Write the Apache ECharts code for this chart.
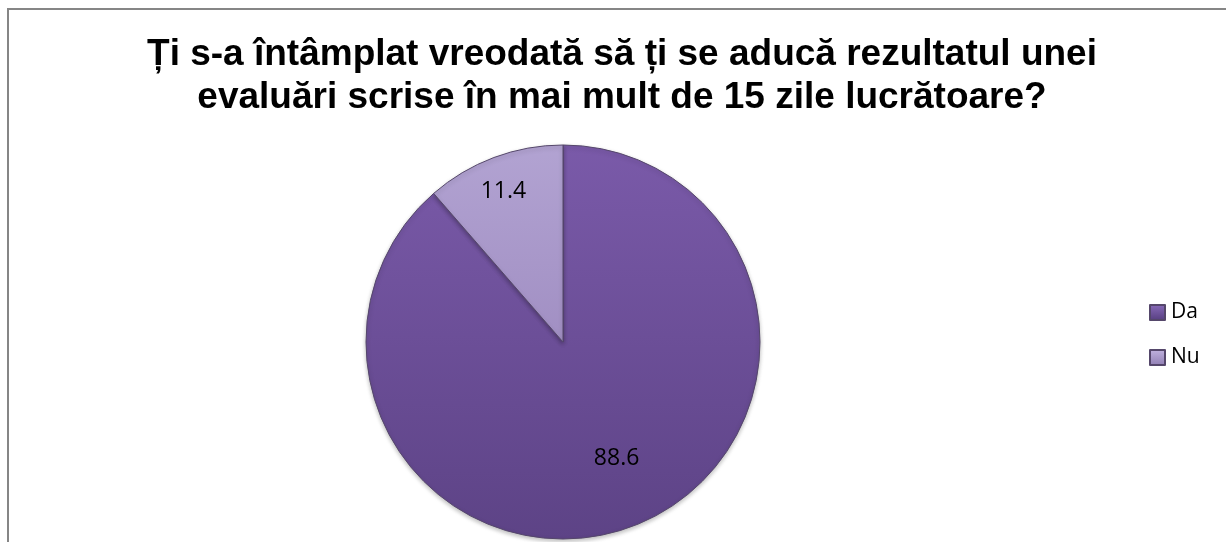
<!DOCTYPE html>
<html lang="ro">
<head>
    <meta charset="UTF-8">
    <title>Evaluari scrise</title>
    <script src="https://cdn.jsdelivr.net/npm/echarts@6/dist/echarts.min.js"></script>
    <style>
        html, body { margin: 0; padding: 0; background: #fff; }
        #main { width: 1226px; height: 542px; }
    </style>
</head>
<body>
<div id="main"></div>
<script>
    // date
    var categories = ['Da', 'Nu'];
    var values = [88.6, 11.4];
    var titleText = 'Ți s-a întâmplat vreodată să ți se aducă rezultatul unei\nevaluări scrise în mai mult de 15 zile lucrătoare?';

    var colors = [
        new echarts.graphic.LinearGradient(0, 0, 0, 1, [
            { offset: 0, color: '#7a5aa9' },
            { offset: 1, color: '#5d4386' }
        ]),
        new echarts.graphic.LinearGradient(0, 0, 0, 1, [
            { offset: 0, color: '#b2a3d2' },
            { offset: 1, color: '#a18fc3' }
        ])
    ];
    var labelOffsets = [[18, 21], [-24, -55]];

    var pieData = [];
    for (var i = 0; i < categories.length; i++) {
        pieData.push({
            name: categories[i],
            value: values[i],
            itemStyle: { color: colors[i] },
            label: { offset: labelOffsets[i] }
        });
    }

    var myChart = echarts.init(document.getElementById('main'));
    var option = {
        animation: false,
        title: {
            text: titleText,
            left: 617,
            top: 28,
            textAlign: 'center',
            textStyle: {
                fontFamily: 'Liberation Sans, Arial, sans-serif',
                fontWeight: 'bold',
                fontSize: 37,
                lineHeight: 43,
                color: '#000'
            }
        },
        legend: {
            orient: 'vertical',
            left: 1144,
            top: 297,
            itemGap: 24,
            itemWidth: 15,
            itemHeight: 15,
            icon: 'rect',
            data: [
                { name: 'Da', itemStyle: { color: new echarts.graphic.LinearGradient(0, 0, 0, 1, [
                    { offset: 0, color: '#8a6cbb' }, { offset: 1, color: '#553d7e' }]) } },
                { name: 'Nu', itemStyle: { color: new echarts.graphic.LinearGradient(0, 0, 0, 1, [
                    { offset: 0, color: '#c2b4e0' }, { offset: 1, color: '#8f7db2' }]) } }
            ],
            textStyle: {
                fontFamily: 'Open Sans, Liberation Sans, sans-serif',
                fontSize: 21,
                color: '#000',
                padding: [0, 0, 0, 1]
            }
        },
        graphic: [{
            type: 'rect',
            shape: { x: 8, y: 9, width: 1240, height: 560 },
            style: { fill: 'none', stroke: '#868686', lineWidth: 2 },
            z: -1
        }],
        series: [{
            type: 'pie',
            center: [563, 342],
            radius: 197,
            startAngle: 90,
            clockwise: true,
            data: pieData,
            itemStyle: {
                borderColor: '#55476b',
                borderWidth: 1,
                shadowColor: 'rgba(0,0,0,0.25)',
                shadowBlur: 4,
                shadowOffsetY: 2
            },
            label: {
                show: true,
                position: 'inside',
                formatter: '{c}',
                fontFamily: 'Open Sans, Liberation Sans, sans-serif',
                fontSize: 23,
                color: '#000'
            },
            labelLine: { show: false },
            emphasis: { disabled: true }
        }]
    };
    myChart.setOption(option);
</script>
</body>
</html>
